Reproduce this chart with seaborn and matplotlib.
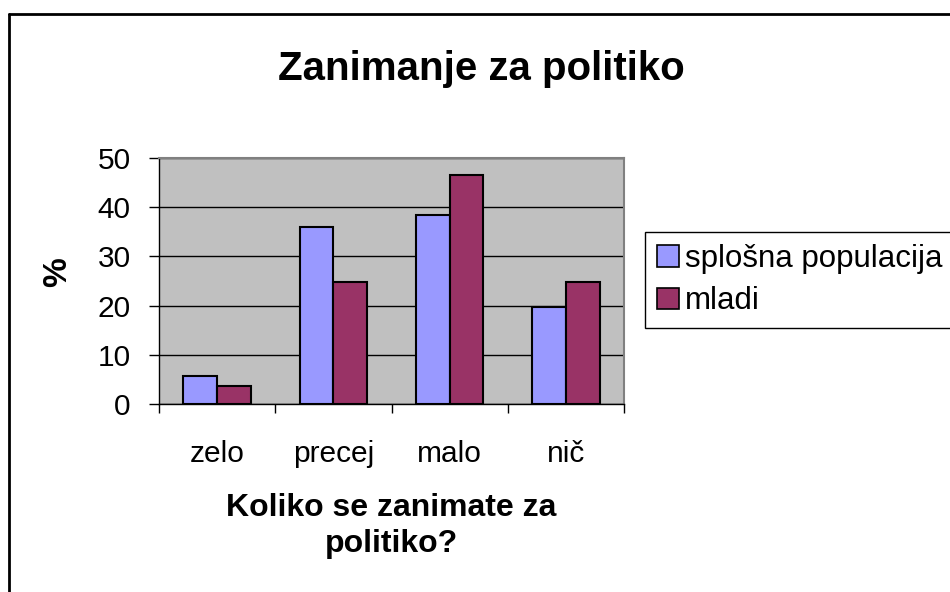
import pandas as pd
import numpy as np
import seaborn as sns
import matplotlib.pyplot as plt
from matplotlib.patches import Patch
from matplotlib.lines import Line2D

# data (percent)
categories = ['zelo', 'precej', 'malo', 'nič']
series_names = ['splošna populacija', 'mladi']
splosna = [5.6, 36.0, 38.5, 19.8]
mladi = [3.6, 24.8, 46.6, 24.8]
colors = ['#9999FF', '#993366']

df = pd.DataFrame({
    'kategorija': categories * 2,
    'odstotek': splosna + mladi,
    'skupina': [series_names[0]] * 4 + [series_names[1]] * 4,
})

sns.set_style('white')
plt.rcParams['font.family'] = ['Liberation Sans', 'DejaVu Sans']
plt.rcParams['text.color'] = 'black'
plt.rcParams['axes.labelcolor'] = 'black'
plt.rcParams['xtick.color'] = 'black'
plt.rcParams['ytick.color'] = 'black'

fig = plt.figure(figsize=(9.5, 5.92), dpi=100)
ax = fig.add_axes([159 / 950, 1 - 404 / 592, 465 / 950, 246 / 592])
ax.set_facecolor('#C0C0C0')

sns.barplot(data=df, x='kategorija', y='odstotek', hue='skupina',
            palette=colors, width=0.58, gap=0, edgecolor='black',
            linewidth=1.5, saturation=1, legend=False, ax=ax)

ax.set_ylim(0, 50)
ax.set_yticks(np.arange(0, 51, 10))
ax.set_xlim(-0.5, 3.5)
ax.set_xticks(np.arange(-0.5, 4, 1), minor=True)
ax.yaxis.grid(True, color='black', linewidth=1)
ax.set_axisbelow(True)

for side in ['left', 'bottom']:
    ax.spines[side].set_color('black')
    ax.spines[side].set_linewidth(1)
for side in ['top', 'right']:
    ax.spines[side].set_color('#808080')
    ax.spines[side].set_linewidth(1.5)

ax.tick_params(axis='y', which='major', direction='out', length=7.5,
               width=1, color='black', labelsize=21.5, pad=13, left=True)
ax.tick_params(axis='x', which='major', length=0, labelsize=21.5, pad=26)
ax.tick_params(axis='x', which='minor', direction='out', length=6.5,
               width=1, color='black', bottom=True)

ax.set_xlabel('Koliko se zanimate za\npolitiko?', fontsize=23,
              fontweight='bold', linespacing=1.25)
ax.xaxis.set_label_coords(0.5, -0.362)
ax.xaxis.label.set_verticalalignment('top')
ax.set_ylabel('%', fontsize=24, fontweight='bold')
ax.yaxis.set_label_coords(-0.217, 0.537)
ax.yaxis.label.set_verticalalignment('center')

fig.text(481 / 950, 1 - 80 / 592, 'Zanimanje za politiko', ha='center',
         va='baseline', fontsize=29, fontweight='bold')

handles = [Patch(facecolor=c, edgecolor='black', linewidth=1.2) for c in colors]
leg = fig.legend(handles, series_names, loc='upper left',
                 bbox_to_anchor=(645 / 950, 1 - 232 / 592),
                 bbox_transform=fig.transFigure, borderaxespad=0,
                 fontsize=22.5, frameon=True, fancybox=False, shadow=False,
                 handlelength=0.7, handleheight=0.7, handletextpad=0.2,
                 labelspacing=0.4, borderpad=0.38)
leg.get_frame().set_edgecolor('black')
leg.get_frame().set_linewidth(1)
leg.get_frame().set_alpha(1)

# chart border (left and top edges visible)
x0, y0 = 9 / 950, 1 - 14 / 592
fig.add_artist(Line2D([x0, x0], [0, y0], color='black', linewidth=2))
fig.add_artist(Line2D([x0, 1], [y0, y0], color='black', linewidth=2))

fig.savefig('out.png', dpi=100)
